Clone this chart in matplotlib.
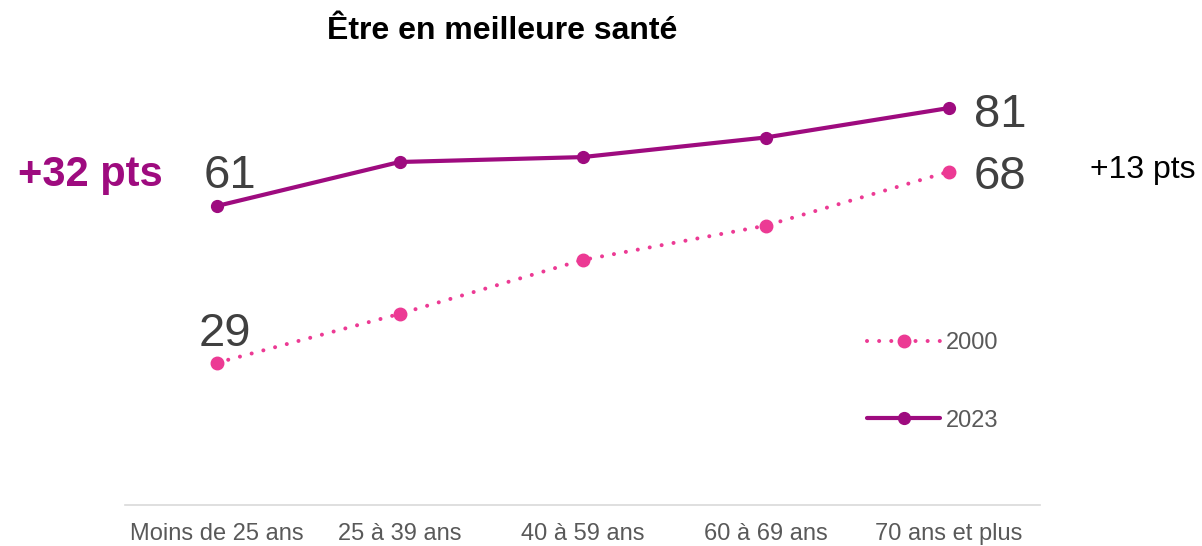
import numpy as np
import matplotlib.pyplot as plt

plt.rcParams['font.family'] = ['Liberation Sans', 'DejaVu Sans']

categories = ['Moins de 25 ans', '25 à 39 ans', '40 à 59 ans', '60 à 69 ans', '70 ans et plus']
vals_2000 = [29, 39, 50, 57, 68]
vals_2023 = [61, 70, 71, 75, 81]

c2023 = '#9E0B7F'
c2000 = '#EC3A94'
grey_txt = '#404040'

fig = plt.figure(figsize=(12.02, 5.46), dpi=100)
ax = fig.add_axes([125/1202, 41/546, 915/1202, 441/546])

x = np.arange(len(categories))
ax.plot(x, vals_2000, color=c2000, lw=2.9, linestyle=(0, (0.01, 3.0)),
        dash_capstyle='round', marker='o', ms=9, label='2000', zorder=3)
ax.plot(x, vals_2023, color=c2023, lw=3.0, solid_capstyle='round',
        marker='o', ms=8.5, label='2023', zorder=4)

# data labels on first and last points
ax.annotate(str(vals_2023[0]), (x[0], vals_2023[0]), xytext=(10, 21.5),
            textcoords='offset points', ha='center', va='center',
            fontsize=34, color=grey_txt)
ax.annotate(str(vals_2000[0]), (x[0], vals_2000[0]), xytext=(6, 21),
            textcoords='offset points', ha='center', va='center',
            fontsize=34, color=grey_txt)
ax.annotate(str(vals_2023[-1]), (x[-1], vals_2023[-1]), xytext=(18, -5),
            textcoords='offset points', ha='left', va='center',
            fontsize=34, color=grey_txt)
ax.annotate(str(vals_2000[-1]), (x[-1], vals_2000[-1]), xytext=(18, -4),
            textcoords='offset points', ha='left', va='center',
            fontsize=34, color=grey_txt)

ax.set_xlim(-0.5, len(categories) - 0.5)
ax.set_ylim(0, 90)
ax.set_xticks(x)
ax.set_xticklabels(categories, fontsize=17, color='#595959')
ax.set_yticks([])
ax.tick_params(axis='x', length=0, pad=13)
for s in ['top', 'left', 'right']:
    ax.spines[s].set_visible(False)
ax.spines['bottom'].set_color('#D9D9D9')
ax.spines['bottom'].set_linewidth(1.2)

leg = ax.legend(loc='center left', bbox_to_anchor=(867/1202, 1 - 382/546),
                bbox_transform=fig.transFigure, frameon=False, fontsize=17,
                handlelength=3.1, handletextpad=0.25, labelspacing=2.35,
                borderpad=0, borderaxespad=0)
for t in leg.get_texts():
    t.set_color('#595959')

fig.text(502/1202, 1 - 31/546, 'Être en meilleure santé', ha='center', va='center',
         fontsize=23, fontweight='bold', color='black')
fig.text(90/1202, 1 - 175/546, '+32 pts', ha='center', va='center',
         fontsize=30, fontweight='bold', color=c2023)
fig.text(1090/1202, 1 - 170/546, '+13 pts', ha='left', va='center',
         fontsize=23, color='black')

fig.savefig('out.png', dpi=100)
